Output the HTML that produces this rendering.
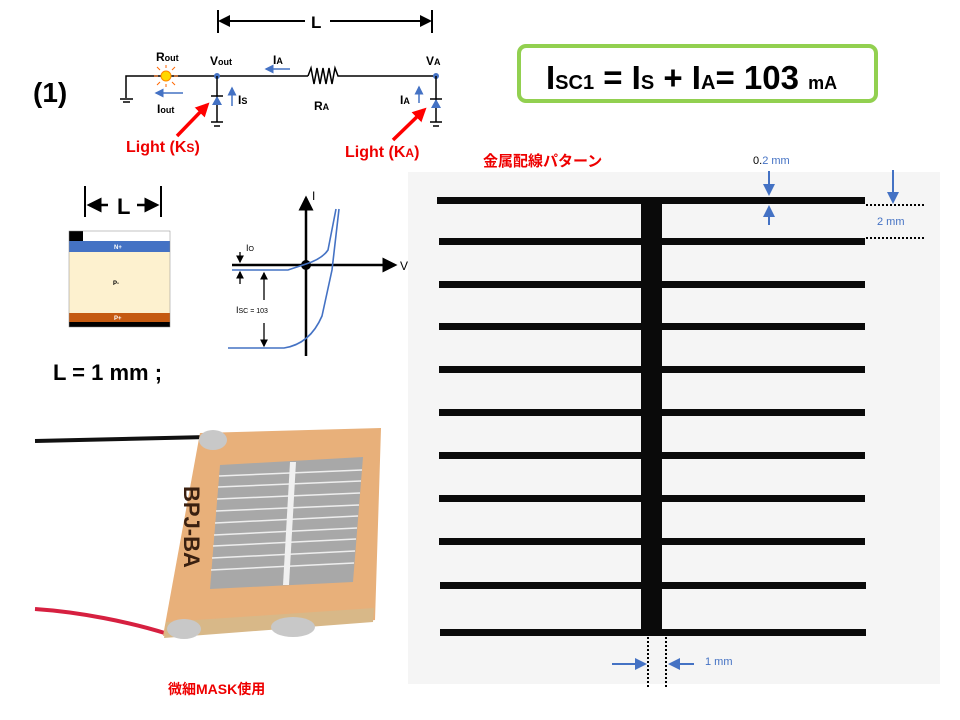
<!DOCTYPE html>
<html><head><meta charset="utf-8"><style>
html,body{margin:0;padding:0;background:#fff;}
svg{display:block;}
text{font-family:"Liberation Sans","Noto Sans CJK JP",sans-serif;}
</style></head><body>
<svg width="960" height="720" viewBox="0 0 960 720" xmlns="http://www.w3.org/2000/svg">
<defs>
<marker id="ab" markerWidth="6" markerHeight="6" refX="5" refY="3" orient="auto"><path d="M0,0 L6,3 L0,6 z" fill="#000"/></marker>
<marker id="abl" markerWidth="6" markerHeight="6" refX="5" refY="3" orient="auto"><path d="M0,0 L6,3 L0,6 z" fill="#4472c4"/></marker>
<marker id="ar" markerWidth="4" markerHeight="4" refX="3" refY="2" orient="auto"><path d="M0,0 L4,2 L0,4 z" fill="#f00"/></marker>
</defs>

<text x="33" y="102" font-size="28" font-weight="bold">(1)</text>

<line x1="218" y1="10" x2="218" y2="33" stroke="#000" stroke-width="2"/>
<line x1="432" y1="10" x2="432" y2="33" stroke="#000" stroke-width="2"/>
<line x1="330" y1="21" x2="430" y2="21" stroke="#000" stroke-width="2" marker-end="url(#ab)"/>
<line x1="305" y1="21" x2="220" y2="21" stroke="#000" stroke-width="2" marker-end="url(#ab)"/>
<text x="311" y="28" font-size="17" font-weight="bold">L</text>

<polyline points="126,98 126,76 308,76" fill="none" stroke="#000" stroke-width="1.5"/>
<line x1="120" y1="99" x2="133" y2="99" stroke="#000" stroke-width="1.5"/>
<line x1="123" y1="102" x2="130" y2="102" stroke="#000" stroke-width="1.5"/>
<polyline points="308,76 311,68 314,84 317,68 320,84 323,68 326,84 329,68 332,84 335,68 338,76 436,76" fill="none" stroke="#000" stroke-width="1.5"/>
<circle cx="166" cy="76" r="5" fill="#ffd700" stroke="#f80" stroke-width="1"/>
<g stroke="#f60" stroke-width="1"><line x1="158" y1="76" x2="154" y2="76"/><line x1="174" y1="76" x2="178" y2="76"/><line x1="166" y1="68" x2="166" y2="65"/><line x1="166" y1="84" x2="166" y2="87"/><line x1="160" y1="70" x2="157" y2="67"/><line x1="172" y1="70" x2="175" y2="67"/><line x1="160" y1="82" x2="157" y2="85"/><line x1="172" y1="82" x2="175" y2="85"/></g>
<text x="156" y="61" font-size="12" font-weight="bold">R<tspan font-size="9">out</tspan></text>
<text x="210" y="65" font-size="12" font-weight="bold">V<tspan font-size="9">out</tspan></text>
<circle cx="217" cy="76" r="3" fill="#4472c4"/>
<line x1="217" y1="76" x2="217" y2="122" stroke="#000" stroke-width="1.5"/>
<path d="M212,105 L222,105 L217,96 z" fill="#4472c4"/><line x1="211" y1="96" x2="223" y2="96" stroke="#000" stroke-width="1.5"/>
<line x1="211" y1="122" x2="223" y2="122" stroke="#000" stroke-width="1.5"/><line x1="214" y1="126" x2="220" y2="126" stroke="#000" stroke-width="1.5"/>
<text x="426" y="65" font-size="12" font-weight="bold">V<tspan font-size="9">A</tspan></text>
<circle cx="436" cy="76" r="3" fill="#4472c4"/>
<line x1="436" y1="76" x2="436" y2="122" stroke="#000" stroke-width="1.5"/>
<path d="M431,108 L441,108 L436,99 z" fill="#4472c4"/><line x1="430" y1="99" x2="442" y2="99" stroke="#000" stroke-width="1.5"/>
<line x1="430" y1="122" x2="442" y2="122" stroke="#000" stroke-width="1.5"/><line x1="433" y1="126" x2="439" y2="126" stroke="#000" stroke-width="1.5"/>
<text x="273" y="64" font-size="12" font-weight="bold">I<tspan font-size="9">A</tspan></text>
<line x1="290" y1="69" x2="266" y2="69" stroke="#4472c4" stroke-width="1.5" marker-end="url(#abl)"/>
<line x1="183" y1="93" x2="156" y2="93" stroke="#4472c4" stroke-width="1.5" marker-end="url(#abl)"/>
<text x="157" y="113" font-size="12" font-weight="bold">I<tspan font-size="9">out</tspan></text>
<line x1="232" y1="106" x2="232" y2="88" stroke="#4472c4" stroke-width="1.5" marker-end="url(#abl)"/>
<text x="238" y="104" font-size="12" font-weight="bold">I<tspan font-size="9">S</tspan></text>
<text x="314" y="110" font-size="12" font-weight="bold">R<tspan font-size="9">A</tspan></text>
<text x="400" y="104" font-size="12" font-weight="bold">I<tspan font-size="9">A</tspan></text>
<line x1="419" y1="103" x2="419" y2="87" stroke="#4472c4" stroke-width="1.5" marker-end="url(#abl)"/>
<line x1="177" y1="136" x2="207" y2="105" stroke="#f00" stroke-width="3.5" marker-end="url(#ar)"/>
<line x1="393" y1="140" x2="424" y2="110" stroke="#f00" stroke-width="3.5" marker-end="url(#ar)"/>
<text x="126" y="152" font-size="16" font-weight="bold" fill="#e00">Light (K<tspan font-size="12">S</tspan>)</text>
<text x="345" y="157" font-size="16" font-weight="bold" fill="#e00">Light (K<tspan font-size="12">A</tspan>)</text>

<rect x="519" y="46" width="357" height="55" rx="7" fill="#fff" stroke="#92d050" stroke-width="4"/>
<text x="546" y="89" font-size="33" font-weight="bold">I<tspan font-size="20">SC1</tspan> = I<tspan font-size="20">S</tspan> + I<tspan font-size="20">A</tspan>= 103 <tspan font-size="18">mA</tspan></text>

<line x1="85" y1="186" x2="85" y2="217" stroke="#000" stroke-width="2"/>
<line x1="161" y1="186" x2="161" y2="217" stroke="#000" stroke-width="2"/>
<text x="117" y="214" font-size="22" font-weight="bold">L</text>
<line x1="108" y1="205" x2="89" y2="205" stroke="#000" stroke-width="2.5" marker-end="url(#ab)"/>
<line x1="137" y1="205" x2="157" y2="205" stroke="#000" stroke-width="2.5" marker-end="url(#ab)"/>
<rect x="69" y="231" width="14" height="11" fill="#000"/>
<rect x="69" y="241" width="101" height="11" fill="#4472c4"/>
<text x="114" y="249" font-size="6" fill="#fff" font-weight="bold">N+</text>
<rect x="69" y="252" width="101" height="62" fill="#fdf1cf"/>
<text x="113" y="285" font-size="6" font-weight="bold">P-</text>
<rect x="69" y="313" width="101" height="10" fill="#c55a11"/>
<text x="114" y="320" font-size="6" fill="#fff" font-weight="bold">P+</text>
<rect x="69" y="322" width="101" height="5" fill="#000"/>
<rect x="69" y="231" width="101" height="96" fill="none" stroke="#888" stroke-width="0.5"/>
<text x="53" y="380" font-size="22" font-weight="bold">L = 1 mm ;</text>

<line x1="306" y1="356" x2="306" y2="198" stroke="#000" stroke-width="2.5" marker-end="url(#ab)"/>
<line x1="232" y1="265" x2="395" y2="265" stroke="#000" stroke-width="2.5" marker-end="url(#ab)"/>
<text x="312" y="200" font-size="12">I</text>
<text x="400" y="270" font-size="12">V</text>
<circle cx="306" cy="265" r="5" fill="#000"/>
<path d="M232,270 L288,270 Q300,266 306,264 Q322,259 328,250 L336,209" fill="none" stroke="#4472c4" stroke-width="1.6"/>
<path d="M228,348 L284,348 Q310,344 322,316 L332,270 L339,209" fill="none" stroke="#4472c4" stroke-width="1.6"/>
<line x1="240" y1="252" x2="240" y2="262" stroke="#000" stroke-width="1.3" marker-end="url(#ab)"/>
<line x1="240" y1="284" x2="240" y2="272" stroke="#000" stroke-width="1.3" marker-end="url(#ab)"/>
<text x="246" y="251" font-size="9">I<tspan font-size="7">O</tspan></text>
<line x1="264" y1="300" x2="264" y2="273" stroke="#000" stroke-width="1.3" marker-end="url(#ab)"/>
<line x1="264" y1="323" x2="264" y2="346" stroke="#000" stroke-width="1.3" marker-end="url(#ab)"/>
<text x="236" y="313" font-size="9">I<tspan font-size="7">SC</tspan><tspan font-size="7"> = 103</tspan></text>

<path d="M35,441 C100,440 160,438 208,437" fill="none" stroke="#111" stroke-width="4"/>
<path d="M35,609 C80,612 130,622 168,634" fill="none" stroke="#d62040" stroke-width="4"/>
<polygon points="200,433 381,428 375,620 163,636" fill="#e8b07a"/>
<polygon points="166,622 374,608 373,622 164,638" fill="#d8b888"/>
<polygon points="220,465 363,457 353,582 210,589" fill="#a8a8a8"/>
<g stroke="#eee" stroke-width="1.5">
<line x1="219" y1="476" x2="362" y2="470"/><line x1="218" y1="487" x2="361" y2="481"/><line x1="217" y1="499" x2="360" y2="493"/>
<line x1="216" y1="511" x2="359" y2="505"/><line x1="215" y1="523" x2="358" y2="516"/><line x1="214" y1="535" x2="357" y2="528"/>
<line x1="213" y1="546" x2="356" y2="539"/><line x1="212" y1="558" x2="355" y2="551"/><line x1="211" y1="570" x2="354" y2="563"/>
</g>
<polygon points="290,462 296,462 289,585 283,585" fill="#f0f0f0"/>
<ellipse cx="213" cy="440" rx="14" ry="10" fill="#c8c8c8"/>
<ellipse cx="184" cy="629" rx="17" ry="10" fill="#c8c8c8"/>
<ellipse cx="293" cy="627" rx="22" ry="10" fill="#c8c8c8"/>
<text x="0" y="0" font-size="22" font-weight="bold" fill="#3a2010" transform="translate(184,486) rotate(90)">BPJ-BA</text>
<text x="168" y="694" font-size="14" font-weight="bold" fill="#e00">微細MASK使用</text>

<rect x="408" y="172" width="532" height="512" fill="#f5f5f5"/>
<text x="483" y="166" font-size="15" font-weight="bold" fill="#e00">金属配線パターン</text>
<g fill="#0a0a0a">
<rect x="437" y="197" width="428" height="7"/><rect x="439" y="238" width="426" height="7"/>
<rect x="439" y="281" width="426" height="7"/><rect x="439" y="323" width="426" height="7"/>
<rect x="439" y="366" width="426" height="7"/><rect x="439" y="409" width="426" height="7"/>
<rect x="439" y="452" width="426" height="7"/><rect x="439" y="495" width="426" height="7"/>
<rect x="439" y="538" width="426" height="7"/><rect x="440" y="582" width="426" height="7"/>
<rect x="440" y="629" width="426" height="7"/>
<rect x="641" y="198" width="21" height="438"/>
</g>
<text x="753" y="164" font-size="11">0.<tspan fill="#4472c4">2 mm</tspan></text>
<line x1="769" y1="171" x2="769" y2="194" stroke="#4472c4" stroke-width="2" marker-end="url(#abl)"/>
<line x1="769" y1="225" x2="769" y2="207" stroke="#4472c4" stroke-width="2" marker-end="url(#abl)"/>
<line x1="893" y1="170" x2="893" y2="202" stroke="#4472c4" stroke-width="2" marker-end="url(#abl)"/>
<line x1="866" y1="205" x2="926" y2="205" stroke="#000" stroke-width="2" stroke-dasharray="2,2"/>
<line x1="866" y1="238" x2="926" y2="238" stroke="#000" stroke-width="2" stroke-dasharray="2,2"/>
<text x="877" y="225" font-size="11" fill="#4472c4">2 mm</text>
<line x1="648" y1="637" x2="648" y2="688" stroke="#000" stroke-width="2" stroke-dasharray="2,2"/>
<line x1="666" y1="637" x2="666" y2="688" stroke="#000" stroke-width="2" stroke-dasharray="2,2"/>
<line x1="612" y1="664" x2="645" y2="664" stroke="#4472c4" stroke-width="2" marker-end="url(#abl)"/>
<line x1="694" y1="664" x2="670" y2="664" stroke="#4472c4" stroke-width="2" marker-end="url(#abl)"/>
<text x="705" y="665" font-size="11" fill="#4472c4">1 mm</text>
</svg>
</body></html>
